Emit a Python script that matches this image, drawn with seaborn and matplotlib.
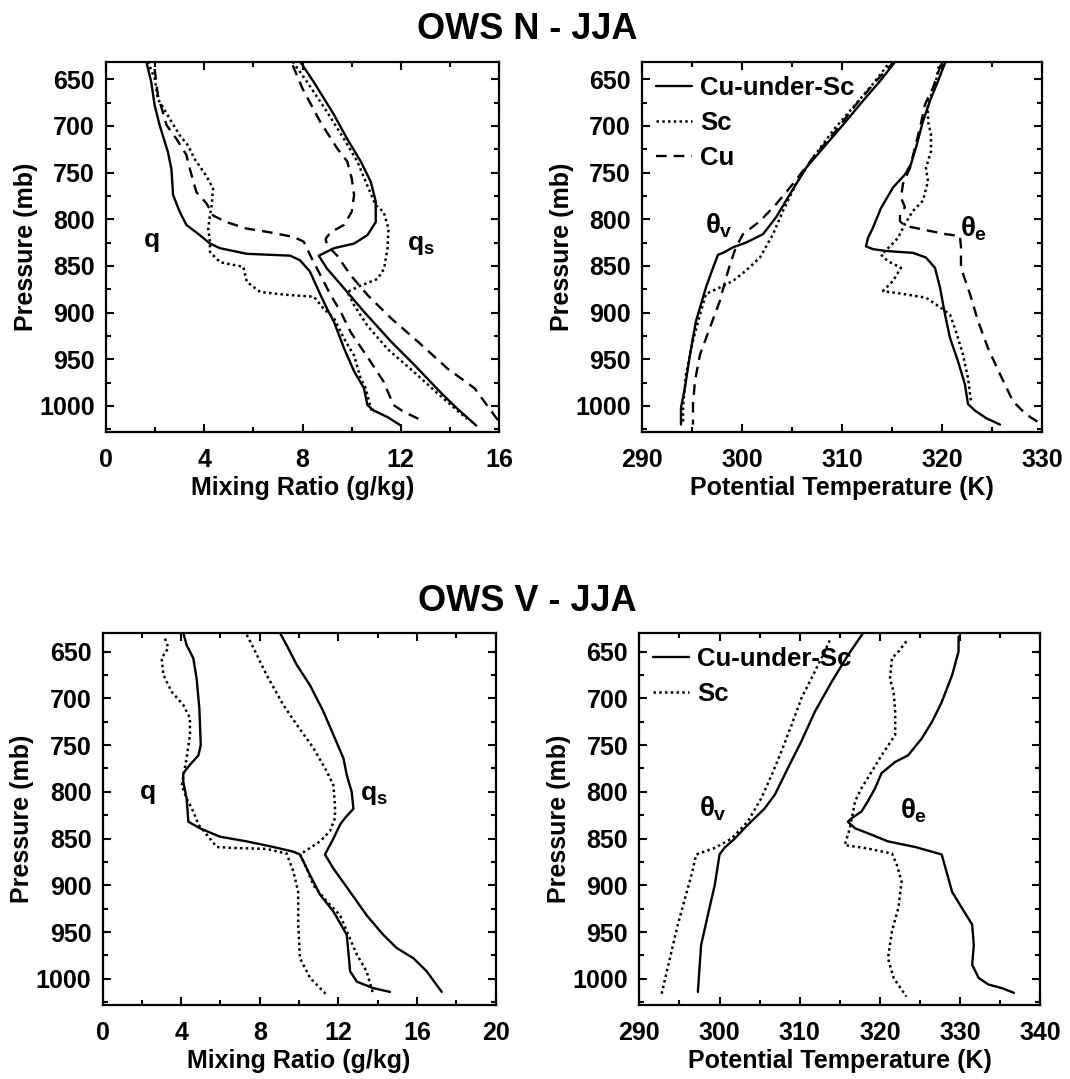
import matplotlib
matplotlib.use("Agg")
import matplotlib.pyplot as plt
from matplotlib.ticker import MultipleLocator
import seaborn as sns

# ---------------- OWS N - JJA : mixing ratio (g/kg) ----------------
n_q_cus_p = [631, 653, 678, 699, 728, 746, 774, 792, 806, 817, 826, 831, 837, 839, 844, 856, 881, 896, 910, 939, 963, 981, 999, 1005, 1012, 1021]
n_q_cus = [1.64, 1.84, 1.98, 2.18, 2.52, 2.66, 2.73, 3.0, 3.27, 3.82, 4.23, 4.64, 5.73, 7.5, 7.9, 8.3, 8.73, 9.0, 9.28, 9.7, 10.1, 10.5, 10.64, 10.9, 11.46, 12.0]
n_qs_cus_p = [631, 653, 688, 714, 738, 760, 781, 803, 817, 826, 831, 839, 853, 874, 899, 931, 956, 985, 1003, 1021]
n_qs_cus = [7.9, 8.46, 9.28, 9.82, 10.37, 10.78, 10.98, 10.98, 10.64, 10.1, 9.28, 8.66, 9.0, 9.69, 10.5, 11.6, 12.55, 13.6, 14.3, 15.07]

n_q_sc_p = [631, 649, 671, 689, 710, 721, 735, 753, 767, 785, 796, 810, 824, 835, 846, 851, 867, 878, 881, 883, 896, 906, 928, 946, 971, 981, 1003, 1008]
n_q_sc = [1.7, 1.98, 2.11, 2.52, 3.0, 3.34, 3.6, 4.07, 4.36, 4.3, 4.23, 4.16, 4.23, 4.23, 4.64, 5.59, 5.73, 6.28, 7.37, 8.46, 8.87, 9.28, 9.69, 10.1, 10.37, 10.57, 10.78, 10.9]
n_qs_sc_p = [631, 653, 685, 714, 738, 764, 785, 792, 810, 831, 853, 864, 871, 878, 892, 914, 939, 964, 989, 1014]
n_qs_sc = [7.6, 8.19, 9.0, 9.69, 10.23, 10.64, 10.98, 11.3, 11.5, 11.46, 11.32, 11.05, 10.37, 9.82, 10.1, 10.64, 11.46, 12.55, 13.6, 14.7]

n_q_cu_p = [639, 667, 699, 714, 731, 746, 771, 783, 796, 803, 810, 814, 819, 824, 839, 860, 881, 899, 921, 953, 974, 999, 1006, 1017]
n_q_cu = [1.98, 2.11, 2.46, 2.87, 3.27, 3.41, 3.68, 4.09, 4.36, 4.9, 5.73, 6.68, 7.64, 8.05, 8.32, 8.73, 9.14, 9.55, 9.96, 10.78, 11.3, 11.7, 12.1, 12.96]
n_qs_cu_p = [635, 660, 696, 724, 738, 756, 774, 792, 806, 814, 821, 828, 839, 860, 881, 906, 931, 960, 981, 1017]
n_qs_cu = [7.6, 8.0, 8.73, 9.41, 9.82, 10.0, 10.1, 10.0, 9.69, 9.14, 8.94, 9.0, 9.41, 9.96, 10.64, 11.6, 12.69, 13.9, 15.0, 16.0]

# ---------------- OWS N - JJA : potential temperature (K) ----------------
n_tv_cus_p = [630, 652, 673, 695, 720, 745, 773, 798, 816, 825, 830, 836, 838, 852, 873, 909, 945, 980, 1002, 1020]
n_tv_cus = [315.4, 313.8, 312.1, 310.4, 308.4, 306.4, 304.8, 303.4, 302.1, 300.4, 299.1, 298.1, 297.6, 297.1, 296.4, 295.4, 294.8, 294.3, 293.9, 293.9]
n_tv_sc_p = [630, 655, 680, 705, 734, 762, 791, 816, 841, 855, 866, 873, 880, 902, 930, 966, 1002, 1020]
n_tv_sc = [314.9, 313.1, 311.1, 309.1, 307.1, 305.4, 304.1, 303.1, 301.8, 300.4, 299.1, 297.8, 296.4, 295.8, 295.1, 294.4, 294.1, 294.1]
n_tv_cu_p = [630, 652, 677, 705, 734, 762, 784, 802, 816, 830, 845, 863, 887, 916, 945, 973, 998, 1020]
n_tv_cu = [315.3, 313.4, 311.4, 309.4, 307.1, 305.1, 303.4, 301.8, 300.1, 299.4, 298.9, 298.4, 297.8, 296.8, 295.8, 295.3, 295.1, 295.1]

n_te_cus_p = [630, 652, 673, 695, 723, 741, 752, 766, 788, 809, 820, 829, 832, 834, 836, 841, 852, 873, 902, 927, 952, 977, 998, 1005, 1013, 1020]
n_te_cus = [320.4, 319.6, 318.8, 318.1, 317.4, 316.9, 316.3, 315.1, 313.9, 313.1, 312.6, 312.4, 313.1, 314.4, 317.1, 318.4, 319.3, 319.8, 320.3, 320.8, 321.6, 322.3, 322.6, 323.3, 324.4, 325.8]
n_te_sc_p = [630, 652, 677, 695, 709, 727, 745, 759, 780, 791, 805, 820, 829, 838, 845, 852, 866, 877, 880, 884, 895, 902, 920, 945, 970, 995]
n_te_sc = [319.8, 319.4, 318.6, 318.6, 318.9, 318.9, 318.4, 318.6, 318.1, 317.1, 316.3, 315.6, 314.8, 313.9, 314.6, 315.9, 315.1, 314.1, 316.1, 318.4, 319.9, 320.8, 321.4, 322.1, 322.6, 322.9]
n_te_cu_p = [634, 659, 677, 702, 723, 745, 762, 777, 787, 795, 802, 807, 811, 816, 818, 830, 852, 880, 909, 938, 966, 995, 1009, 1020]
n_te_cu = [319.9, 319.1, 318.3, 317.8, 317.3, 316.8, 316.1, 315.9, 316.3, 315.8, 315.8, 316.3, 318.1, 320.4, 321.8, 321.9, 321.9, 322.8, 323.6, 324.6, 325.8, 327.1, 328.4, 330.0]

# ---------------- OWS V - JJA : mixing ratio (g/kg) ----------------
v_q_cus_p = [630, 643, 657, 679, 711, 750, 761, 771, 780, 789, 807, 832, 839, 848, 853, 859, 864, 867, 889, 910, 928, 953, 971, 992, 1003, 1010, 1014]
v_q_cus = [4.11, 4.28, 4.62, 4.79, 4.93, 5.0, 4.88, 4.45, 4.11, 4.11, 4.28, 4.37, 4.96, 5.98, 7.34, 8.7, 9.71, 10.05, 10.56, 11.07, 11.75, 12.43, 12.51, 12.6, 12.94, 13.78, 14.63]
v_q_sc_p = [636, 646, 657, 675, 693, 707, 721, 739, 764, 793, 807, 821, 835, 850, 859, 860, 861, 866, 885, 907, 942, 978, 999, 1017]
v_q_sc = [3.18, 3.35, 3.01, 3.1, 3.52, 4.11, 4.45, 4.45, 4.28, 4.03, 4.28, 4.62, 4.88, 5.47, 5.81, 6.66, 8.35, 9.37, 9.71, 9.96, 9.96, 10.05, 10.56, 11.4]
v_qs_cus_p = [630, 643, 664, 686, 714, 739, 764, 782, 800, 818, 828, 835, 850, 867, 882, 907, 932, 953, 967, 978, 992, 1014]
v_qs_cus = [9.03, 9.37, 9.88, 10.56, 11.24, 11.75, 12.26, 12.43, 12.68, 12.77, 12.34, 12.09, 11.75, 11.32, 11.75, 12.6, 13.44, 14.29, 14.97, 15.82, 16.5, 17.26]
v_qs_sc_p = [632, 646, 675, 707, 728, 753, 778, 793, 814, 828, 842, 853, 860, 867, 882, 900, 917, 932, 949, 974, 992, 1017]
v_qs_sc = [7.34, 7.68, 8.35, 9.2, 9.88, 10.73, 11.41, 11.75, 11.83, 11.83, 11.58, 11.07, 10.56, 10.05, 10.39, 10.73, 11.41, 12.09, 12.43, 12.94, 13.44, 13.78]

# ---------------- OWS V - JJA : potential temperature (K) ----------------
v_tv_cus_p = [630, 654, 682, 714, 746, 775, 803, 818, 828, 839, 850, 860, 867, 900, 924, 964, 1014]
v_tv_cus = [317.9, 316.0, 314.0, 311.9, 310.2, 308.5, 306.9, 305.6, 304.4, 303.1, 301.9, 300.6, 300.0, 299.4, 298.75, 297.7, 297.3]
v_tv_sc_p = [638, 650, 671, 700, 728, 757, 782, 807, 832, 850, 860, 867, 889, 917, 942, 971, 1019]
v_tv_sc = [313.75, 313.1, 311.9, 310.2, 309.0, 307.7, 306.5, 305.2, 303.5, 301.5, 299.4, 297.1, 296.5, 295.6, 294.8, 294.0, 292.7]
v_te_cus_p = [634, 650, 675, 704, 725, 743, 761, 768, 780, 796, 810, 821, 828, 832, 839, 846, 853, 859, 867, 907, 924, 942, 964, 985, 999, 1006, 1010, 1015]
v_te_cus = [329.8, 329.8, 329.0, 327.7, 326.5, 325.2, 323.5, 321.9, 320.2, 319.4, 318.5, 317.7, 316.5, 316.0, 316.9, 319.0, 321.0, 324.4, 327.7, 329.0, 330.2, 331.5, 331.7, 331.5, 332.3, 333.5, 335.2, 336.7]
v_te_sc_p = [639, 650, 657, 679, 693, 714, 739, 761, 778, 796, 810, 828, 839, 857, 860, 866, 878, 896, 924, 949, 978, 999, 1019]
v_te_sc = [323.3, 322.3, 321.5, 321.25, 321.7, 321.9, 321.9, 320.2, 319.0, 317.7, 316.9, 316.5, 316.25, 315.6, 318.1, 321.5, 322.1, 322.7, 322.3, 321.5, 321.0, 321.7, 323.3]

# ---------------- styling ----------------
sns.set_style("ticks")
FONT = ["Liberation Sans", "DejaVu Sans"]
plt.rcParams.update({
    "font.family": FONT,
    "font.weight": "bold",
    "axes.labelweight": "bold",
    "text.color": "black",
    "axes.labelcolor": "black",
    "xtick.color": "black",
    "ytick.color": "black",
    "xtick.labelcolor": "black",
    "ytick.labelcolor": "black",
    "mathtext.fontset": "custom",
    "mathtext.rm": "Liberation Sans:bold",
    "mathtext.it": "Liberation Sans:bold",
    "mathtext.bf": "Liberation Sans:bold",
    "axes.linewidth": 1.6,
    "axes.edgecolor": "black",
})

SOLID = dict(color="black", lw=1.7, linestyle="-")
DOT = dict(color="black", lw=1.8, linestyle=(0, (1.0, 1.3)))
DASH = dict(color="black", lw=1.7, linestyle=(0, (4.5, 3.0)))
TICK_FS = 18
LABEL_FS = 18

fig = plt.figure(figsize=(10.7, 10.79), dpi=100)
ax1 = fig.add_axes([0.0991, 0.5996, 0.3673, 0.3429])
ax2 = fig.add_axes([0.6000, 0.5996, 0.3738, 0.3429])
ax3 = fig.add_axes([0.0958, 0.0686, 0.3673, 0.3448])
ax4 = fig.add_axes([0.5975, 0.0686, 0.3748, 0.3448])


def curve(ax, x, p, style, label=None):
    kw = dict(style)
    if label is not None:
        kw["label"] = label
    sns.lineplot(x=x, y=p, sort=False, estimator=None, ax=ax, legend=False, **kw)


def frame(ax, xlim, xmajor, xminor, ylim, xlabel):
    ax.set_xlim(*xlim)
    ax.set_ylim(*ylim)
    ax.xaxis.set_major_locator(MultipleLocator(xmajor))
    ax.xaxis.set_minor_locator(MultipleLocator(xminor))
    ax.yaxis.set_major_locator(MultipleLocator(50))
    ax.yaxis.set_minor_locator(MultipleLocator(25))
    ax.tick_params(which="both", direction="in", top=True, right=True,
                   width=1.5, labelsize=TICK_FS, color="black", labelcolor="black")
    ax.tick_params(which="major", length=6)
    ax.tick_params(which="minor", length=3.5)
    ax.tick_params(axis="x", which="major", pad=11.5)
    ax.tick_params(axis="y", which="major", pad=8)
    for lab in ax.get_xticklabels() + ax.get_yticklabels():
        lab.set_fontweight("bold")
    ax.set_xlabel(xlabel, fontsize=LABEL_FS, fontweight="bold", labelpad=3, color="black")
    ax.set_ylabel("Pressure (mb)", fontsize=LABEL_FS, fontweight="bold", labelpad=1, color="black")
    for s in ax.spines.values():
        s.set_visible(True)
        s.set_linewidth(1.6)
        s.set_color("black")


# Top row: OWS N
curve(ax1, n_q_cus, n_q_cus_p, SOLID)
curve(ax1, n_qs_cus, n_qs_cus_p, SOLID)
curve(ax1, n_q_sc, n_q_sc_p, DOT)
curve(ax1, n_qs_sc, n_qs_sc_p, DOT)
curve(ax1, n_q_cu, n_q_cu_p, DASH)
curve(ax1, n_qs_cu, n_qs_cu_p, DASH)
frame(ax1, (0, 16), 4, 2, (1028, 631.5), "Mixing Ratio (g/kg)")
ax1.text(1.85, 822, "q", fontsize=19, fontweight="bold", ha="center", va="center")
ax1.text(12.8, 828, r"$q_s$", fontsize=19, ha="center", va="center")

curve(ax2, n_tv_cus, n_tv_cus_p, SOLID, "Cu-under-Sc")
curve(ax2, n_tv_sc, n_tv_sc_p, DOT, "Sc")
curve(ax2, n_tv_cu, n_tv_cu_p, DASH, "Cu")
curve(ax2, n_te_cus, n_te_cus_p, SOLID)
curve(ax2, n_te_sc, n_te_sc_p, DOT)
curve(ax2, n_te_cu, n_te_cu_p, DASH)
frame(ax2, (290, 330), 10, 5, (1028, 631.5), "Potential Temperature (K)")
ax2.text(297.7, 807, r"$\theta_v$", fontsize=20, ha="center", va="center")
ax2.text(323.2, 810, r"$\theta_e$", fontsize=20, ha="center", va="center")

# Bottom row: OWS V
curve(ax3, v_q_cus, v_q_cus_p, SOLID)
curve(ax3, v_qs_cus, v_qs_cus_p, SOLID)
curve(ax3, v_q_sc, v_q_sc_p, DOT)
curve(ax3, v_qs_sc, v_qs_sc_p, DOT)
frame(ax3, (0, 20), 4, 2, (1028, 630), "Mixing Ratio (g/kg)")
ax3.text(2.3, 800, "q", fontsize=19, fontweight="bold", ha="center", va="center")
ax3.text(13.8, 803, r"$q_s$", fontsize=19, ha="center", va="center")

curve(ax4, v_tv_cus, v_tv_cus_p, SOLID, "Cu-under-Sc")
curve(ax4, v_tv_sc, v_tv_sc_p, DOT, "Sc")
curve(ax4, v_te_cus, v_te_cus_p, SOLID)
curve(ax4, v_te_sc, v_te_sc_p, DOT)
frame(ax4, (290, 340), 10, 5, (1028, 630), "Potential Temperature (K)")
ax4.text(299.2, 818, r"$\theta_v$", fontsize=20, ha="center", va="center")
ax4.text(324.2, 820, r"$\theta_e$", fontsize=20, ha="center", va="center")

for ax in (ax2, ax4):
    handles = [ln for ln in ax.get_lines() if not ln.get_label().startswith("_")]
    ax.legend(handles=handles, labels=[h.get_label() for h in handles],
              loc="upper left", bbox_to_anchor=(0.0, 1.0), frameon=False,
              handlelength=1.4, handletextpad=0.3,
              labelspacing=0.42, borderpad=0.3, borderaxespad=0.25,
              prop={"weight": "bold", "size": 18.5, "family": FONT})

fig.text(0.4925, 0.973, "OWS N - JJA", fontsize=26, fontweight="bold", ha="center", va="center")
fig.text(0.4925, 0.443, "OWS V - JJA", fontsize=26, fontweight="bold", ha="center", va="center")

fig.savefig("out.png", dpi=100, facecolor="white")
